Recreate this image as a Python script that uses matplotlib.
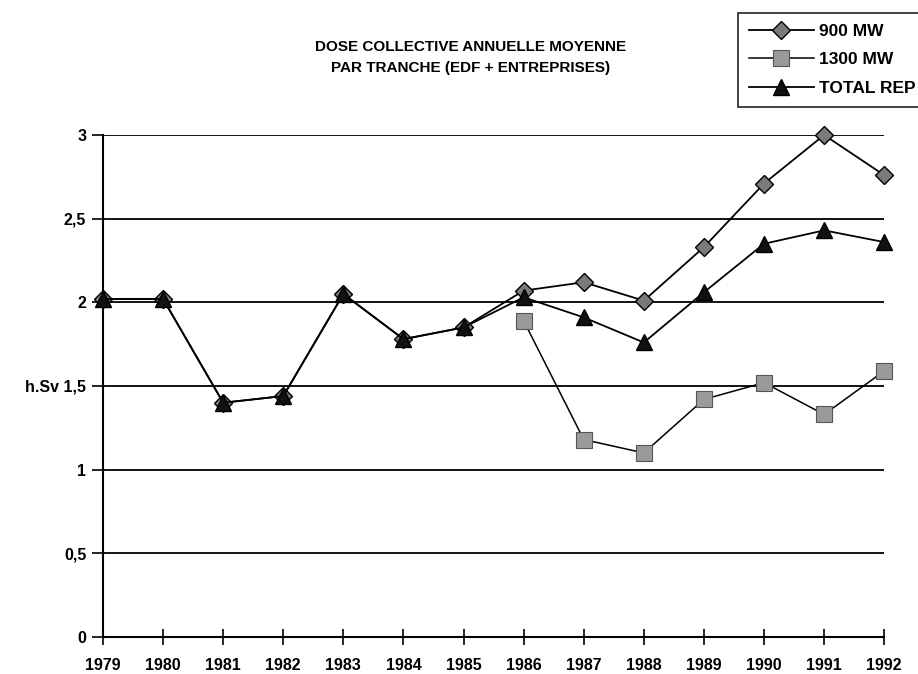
import matplotlib
matplotlib.use("Agg")
import matplotlib.pyplot as plt

plt.rcParams["font.family"] = ["Liberation Sans", "DejaVu Sans"]
plt.rcParams["font.weight"] = "bold"

years = list(range(1979, 1993))
mw900 = [2.02, 2.02, 1.40, 1.44, 2.05, 1.78, 1.85, 2.07, 2.12, 2.01, 2.33, 2.71, 3.00, 2.76]
years1300 = list(range(1986, 1993))
mw1300 = [1.89, 1.18, 1.10, 1.42, 1.52, 1.33, 1.59]
total = [2.02, 2.02, 1.40, 1.44, 2.05, 1.78, 1.85, 2.03, 1.91, 1.76, 2.06, 2.35, 2.43, 2.36]
yticks = [0, 0.5, 1, 1.5, 2, 2.5, 3]
ylabels = ["0", "0,5", "1", "h.Sv 1,5", "2", "2,5", "3"]

fig = plt.figure(figsize=(9.18, 6.74), dpi=100)
ax = fig.add_axes([0.1122, 0.0549, 0.851, 0.7448])

for y in yticks[1:]:
    ax.axhline(y, color="black", lw=1.3, zorder=1)

ax.plot(years, mw900, marker="D", color="black", lw=1.3, ms=9,
        mfc="#7a7a7a", mec="black", mew=1.0, label="900 MW", zorder=3, clip_on=False)
ax.plot(years1300, mw1300, marker="s", color="black", lw=1.1, ms=12,
        mfc="#9a9a9a", mec="#555555", mew=0.8, label="1300 MW", zorder=3, clip_on=False)
ax.plot(years, total, marker="^", color="black", lw=1.3, ms=11,
        mfc="#111111", mec="black", label="TOTAL REP", zorder=4, clip_on=False)

ax.set_xlim(1979, 1992)
ax.set_ylim(0, 3)
ax.set_xticks(years)
ax.set_xticklabels([str(y) for y in years], fontsize=11.5, fontweight="bold")
ax.set_yticks(yticks)
ax.set_yticklabels(ylabels, fontsize=11.5, fontweight="bold")
ax.tick_params(axis="x", direction="inout", length=12, width=1.2, pad=9)
ax.tick_params(axis="y", direction="out", length=8, width=1.2, pad=4)
for s in ["top", "right"]:
    ax.spines[s].set_visible(False)
for s in ["left", "bottom"]:
    ax.spines[s].set_linewidth(1.5)

fig.text(0.513, 0.915, "DOSE COLLECTIVE ANNUELLE MOYENNE\nPAR TRANCHE (EDF + ENTREPRISES)",
         ha="center", va="center", fontsize=11, fontweight="bold", linespacing=1.65)

leg = fig.legend(loc="upper left", bbox_to_anchor=(0.804, 0.981), fontsize=12.5,
                 frameon=True, fancybox=False, edgecolor="black", handlelength=3.7,
                 borderpad=0.65, labelspacing=0.75, handletextpad=0.3, borderaxespad=0)
leg.get_frame().set_linewidth(1.3)
for t in leg.get_texts():
    t.set_fontweight("bold")

fig.savefig("out.png", dpi=100)
